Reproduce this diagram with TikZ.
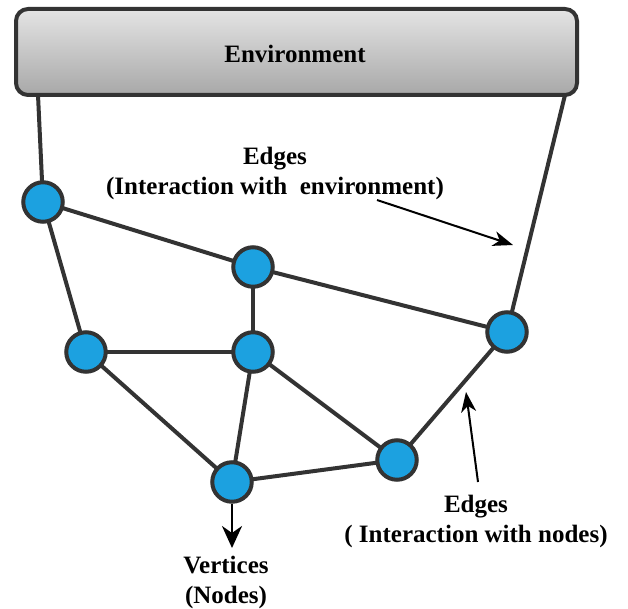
\documentclass[tikz,border=0pt]{standalone}
\usepackage{fontspec}
\setmainfont{Liberation Serif}
\usetikzlibrary{arrows.meta,calc,backgrounds}
\definecolor{edgegray}{HTML}{333333}
\definecolor{nodeblue}{HTML}{1CA1E0}
\definecolor{boxtop}{HTML}{E4E4E4}
\definecolor{boxbot}{HTML}{A8A8A8}
\tikzset{
  vertex/.style={circle, draw=edgegray, line width=4pt, fill=nodeblue, minimum size=39.5pt, inner sep=0pt},
  link/.style={draw=edgegray, line width=4pt},
  lbl/.style={font=\bfseries\fontsize{25}{30}\selectfont, anchor=base, inner sep=0pt},
  pointer/.style={draw=black, line width=2pt, -{Stealth[length=20pt,width=15pt,inset=6pt]}},
  bigpointer/.style={draw=black, line width=2.8pt, -{Stealth[length=22pt,width=20pt,inset=7pt]}},
}
\begin{document}
\begin{tikzpicture}[x=1pt,y=-1pt]
\useasboundingbox (0,0) rectangle (628,609);
% environment box
\node[draw=edgegray, line width=4pt, rounded corners=12pt, top color=boxtop, bottom color=boxbot,
      minimum width=561pt, minimum height=86pt, inner sep=0pt] (env) at (296.5,52) {};
\node[lbl] (envtxt) at (295,63) {Environment};
% vertices
\coordinate (envL) at (38,95);
\coordinate (envR) at (565,95);
\node[vertex] (A) at (43,202) {};
\node[vertex] (B) at (253,267) {};
\node[vertex] (C) at (86,352) {};
\node[vertex] (D) at (253,352) {};
\node[vertex] (E) at (507,332) {};
\node[vertex] (F) at (397,460) {};
\node[vertex] (G) at (232,482) {};
% edges
\begin{pgfonlayer}{background}
\draw[link] (envL) -- (A.center);
\draw[link] (envR) -- (E.center);
\draw[link] (A.center) -- (B.center);
\draw[link] (A.center) -- (C.center);
\draw[link] (B.center) -- (D.center);
\draw[link] (B.center) -- (E.center);
\draw[link] (C.center) -- (D.center);
\draw[link] (C.center) -- (G.center);
\draw[link] (D.center) -- (G.center);
\draw[link] (D.center) -- (F.center);
\draw[link] (F.center) -- (G.center);
\draw[link] (F.center) -- (E.center);
\end{pgfonlayer}
% labels
\node[lbl] (e1a) at (275,165) {Edges};
\node[lbl] (e1b) at (275,195) {(Interaction with\ \ environment)};
\node[lbl] (e2a) at (476,512) {Edges};
\node[lbl] (e2b) at (476,542) {( Interaction with nodes)};
\node[lbl] (v1) at (226,573) {Vertices};
\node[lbl] (v2) at (226,603) {(Nodes)};
% pointers
\coordinate (p1s) at (377,200);
\coordinate (p1e) at (513,245);
\coordinate (p2s) at (478,482);
\coordinate (p2e) at (466,392);
\coordinate (p3e) at (232,548);
\draw[pointer] (p1s) -- (p1e);
\draw[pointer] (p2s) -- (p2e);
\draw[bigpointer] (G.south) -- (p3e);
\end{tikzpicture}
\end{document}
